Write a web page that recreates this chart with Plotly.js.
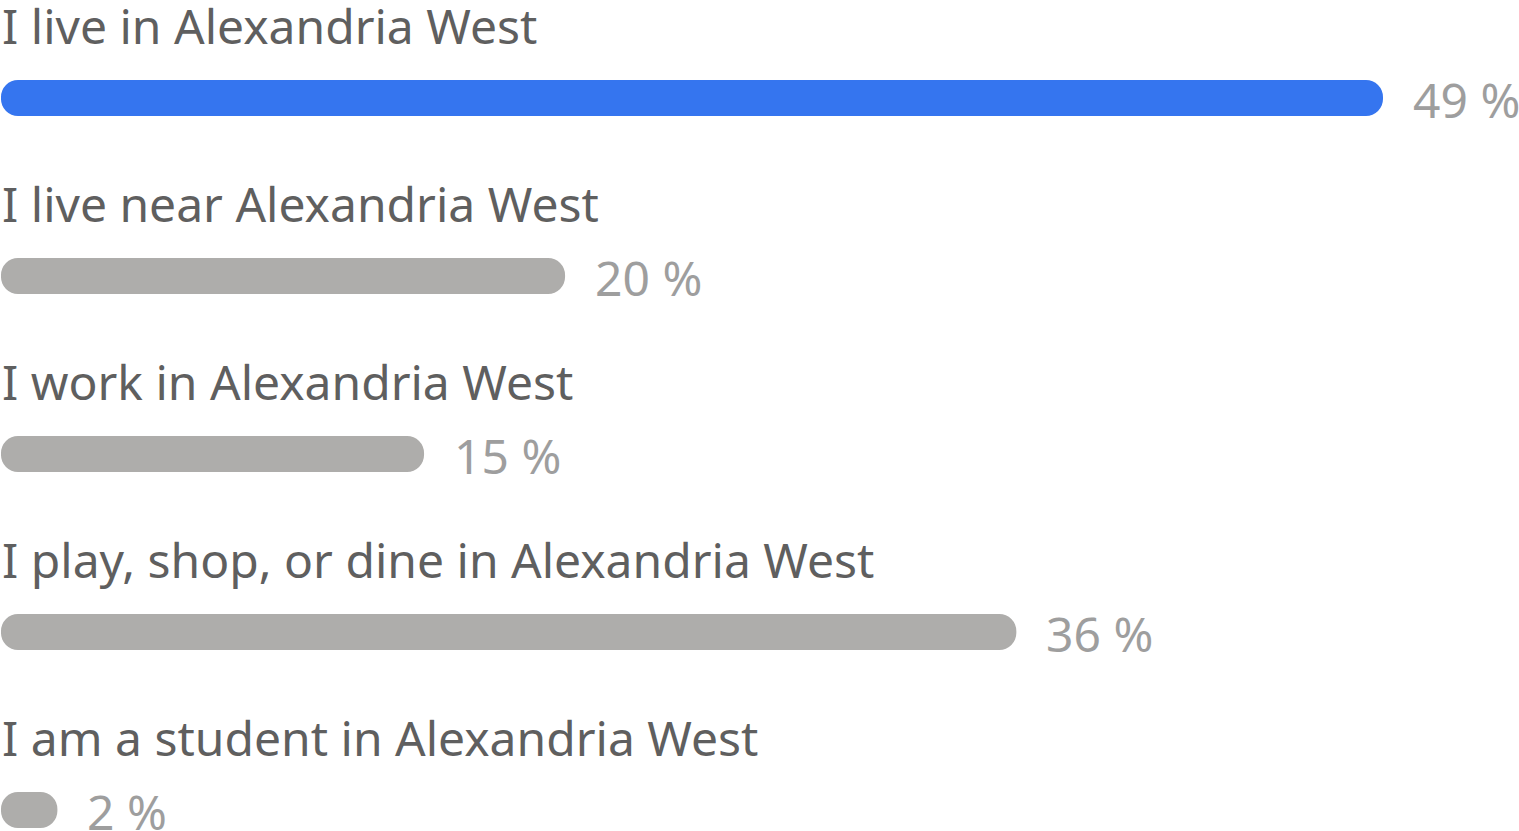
<!DOCTYPE html>
<html>
<head>
<meta charset="utf-8">
<script src="https://cdn.plot.ly/plotly-3.0.1.min.js"></script>
<style>html,body{margin:0;padding:0;background:#fff;}#chart{width:1519px;height:831px;}</style>
</head>
<body>
<div id="chart"></div>
<script>
const categories = [
  "I live in Alexandria West",
  "I live near Alexandria West",
  "I work in Alexandria West",
  "I play, shop, or dine in Alexandria West",
  "I am a student in Alexandria West"
];
const percents = [49, 20, 15, 36, 2];
const barColors = ["#3575ef", "#aeadab", "#aeadab", "#aeadab", "#aeadab"];

const FONT = "Noto Sans, Open Sans, sans-serif";
const idx = categories.map((c, i) => i);

// floating bars (explicit base) get rounded at both ends
const bars = {
  type: "bar", orientation: "h",
  base: percents.map(() => 0), x: percents, y: idx,
  width: 0.202,
  marker: { color: barColors, cornerradius: 18, line: { width: 0 } },
  hoverinfo: "skip"
};

const annotations = [];
categories.forEach((c, i) => {
  annotations.push({
    xref: "paper", x: 0, yref: "y", y: i,
    xanchor: "left", yanchor: "middle", yshift: 73, xshift: 0,
    text: c, showarrow: false,
    font: { family: FONT, size: 48, color: "#5f5f5f" }
  });
  annotations.push({
    xref: "x", x: percents[i], yref: "y", y: i,
    xanchor: "left", yanchor: "middle", xshift: 28, yshift: -1,
    text: percents[i] + " %", showarrow: false,
    font: { family: FONT, size: 48, color: "#9e9e9e" }
  });
});

const xmin = -0.035;
const xmax = xmin + (49 - xmin) * 1519 / 1383;

const layout = {
  width: 1519, height: 831,
  margin: { l: 0, r: 0, t: 0, b: 0 },
  paper_bgcolor: "#fff", plot_bgcolor: "#fff",
  showlegend: false,
  xaxis: { range: [xmin, xmax], visible: false, fixedrange: true },
  yaxis: { range: [4.118, -0.5506], visible: false, fixedrange: true },
  annotations: annotations
};

Plotly.newPlot("chart", [bars], layout, { staticPlot: true, displayModeBar: false });
</script>
</body>
</html>
